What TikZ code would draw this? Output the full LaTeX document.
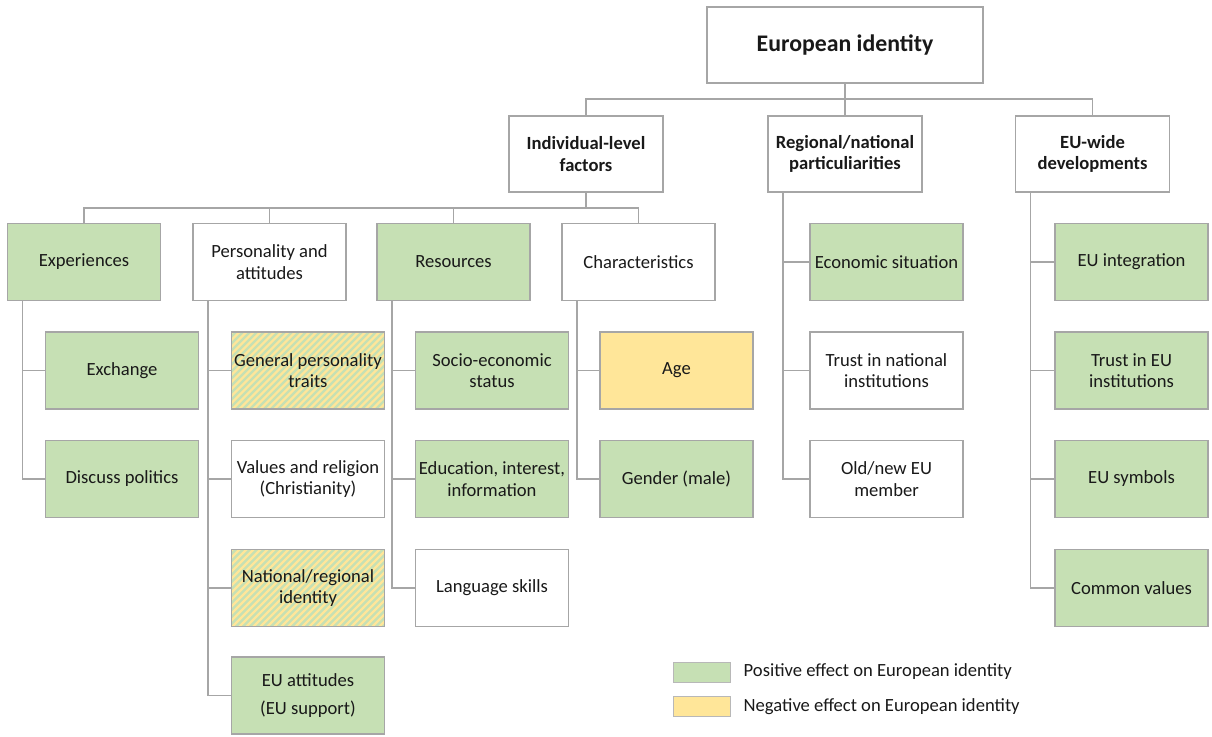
\documentclass[tikz,border=0pt]{standalone}
\usepackage{fontspec}
\setmainfont{Carlito}
\usetikzlibrary{positioning}

\definecolor{posgreen}{HTML}{C6E0B4}
\definecolor{negyellow}{HTML}{FFE699}
\definecolor{linegray}{HTML}{A6A6A6}

\tikzset{
  box/.style={draw=linegray, line width=1.5pt, minimum width=153pt, minimum height=77pt,
    inner sep=2pt, align=center, text=black!90, font=\fontsize{18.6}{21.5}\selectfont},
  head/.style={box, fill=white, minimum width=154pt, minimum height=76pt,
    font=\fontsize{18.6}{21.5}\selectfont\bfseries},
  plainbox/.style={box, fill=white},
  goodbox/.style={box, fill=posgreen},
  badbox/.style={box, fill=negyellow},
  mixbox/.style={box, fill=posgreen, path picture={
      \foreach \k in {-90,-83,...,160}
        \draw[negyellow, line width=2.3pt]
          ([xshift=\k pt]path picture bounding box.south west) -- ++(100pt,100pt);
    }},
  link/.style={draw=linegray, line width=1.5pt},
  swatch/.style={draw=linegray!80, line width=1pt, minimum width=57pt, minimum height=20pt, inner sep=0pt},
  legend/.style={text=black!90, font=\fontsize{18.6}{21}\selectfont, inner sep=0pt},
}

\begin{document}
\begin{tikzpicture}[x=1pt, y=-1pt]
  \useasboundingbox (0,0) rectangle (1212,736);

  % top and first level
  \node (euro) [head, minimum width=276pt, font=\fontsize{23.8}{27}\selectfont\bfseries] at (845,45) {European identity};
  \node (indiv) [head] at (586,154) {Individual-level\\factors};
  \node (regio) [head] at (845,154) {Regional/national\\particuliarities};
  \node (euwide) [head] at (1092.5,154) {EU-wide\\developments};

  % individual-level factors
  \node (exper) [goodbox] at (84,262) {Experiences};
  \node (pers) [plainbox] at (269.5,262) {Personality and\\attitudes};
  \node (resou) [goodbox] at (453.5,262) {Resources};
  \node (chara) [plainbox] at (638.5,262) {Characteristics};

  \node (exch) [goodbox] at (122,370.5) {Exchange};
  \node (disc) [goodbox] at (122,479) {Discuss politics};

  \node (traits) [mixbox] at (308,370.5) {General personality\\traits};
  \node (values) [plainbox] at (308,479) {Values and religion\\(Christianity)};
  \node (natid) [mixbox] at (308,588) {National/regional\\identity};
  \node (euatt) [goodbox] at (308,695.5) {EU attitudes\\[7pt](EU support)};

  \node (socio) [goodbox] at (492,370.5) {Socio-economic\\status};
  \node (educ) [goodbox] at (492,479) {Education, interest,\\information};
  \node (lang) [plainbox] at (492,588) {Language skills};

  \node (age) [badbox] at (676.5,370.5) {Age};
  \node (gender) [goodbox] at (676.5,479) {Gender (male)};

  % regional/national
  \node (econ) [goodbox] at (886.5,262) {Economic situation};
  \node (trustnat) [plainbox] at (886.5,370.5) {Trust in national\\institutions};
  \node (oldnew) [plainbox] at (886.5,479) {Old/new EU\\member};

  % EU-wide
  \node (integ) [goodbox] at (1131.5,262) {EU integration};
  \node (trusteu) [goodbox] at (1131.5,370.5) {Trust in EU\\institutions};
  \node (symb) [goodbox] at (1131.5,479) {EU symbols};
  \node (common) [goodbox] at (1131.5,588) {Common values};

  % connectors
  \coordinate (bus1) at (845,99);
  \coordinate (bus2) at (586,208);
  \draw[link] (euro) -- (regio);
  \draw[link] (indiv.north) |- (bus1) -| (euwide.north);
  \draw[link] (indiv) -- (bus2);
  \draw[link] (exper.north) |- (bus2) -| (chara.north);
  \draw[link] (pers.north) -- (pers.north |- bus2);
  \draw[link] (resou.north) -- (resou.north |- bus2);

  \foreach \p/\c in {exper/exch, exper/disc, pers/traits, pers/values, pers/natid, pers/euatt,
                     resou/socio, resou/educ, resou/lang, chara/age, chara/gender,
                     regio/econ, regio/trustnat, regio/oldnew,
                     euwide/integ, euwide/trusteu, euwide/symb, euwide/common}
    \draw[link] ([xshift=15.5pt]\p.south west) |- (\c.west);

  % legend
  \node (posbox) [swatch, fill=posgreen] at (701.5,672) {};
  \node (poslab) [legend, right=13pt of posbox] {Positive effect on European identity};
  \node (negbox) [swatch, fill=negyellow] at (701.5,706.5) {};
  \node (neglab) [legend, right=13pt of negbox] {Negative effect on European identity};
\end{tikzpicture}
\end{document}
